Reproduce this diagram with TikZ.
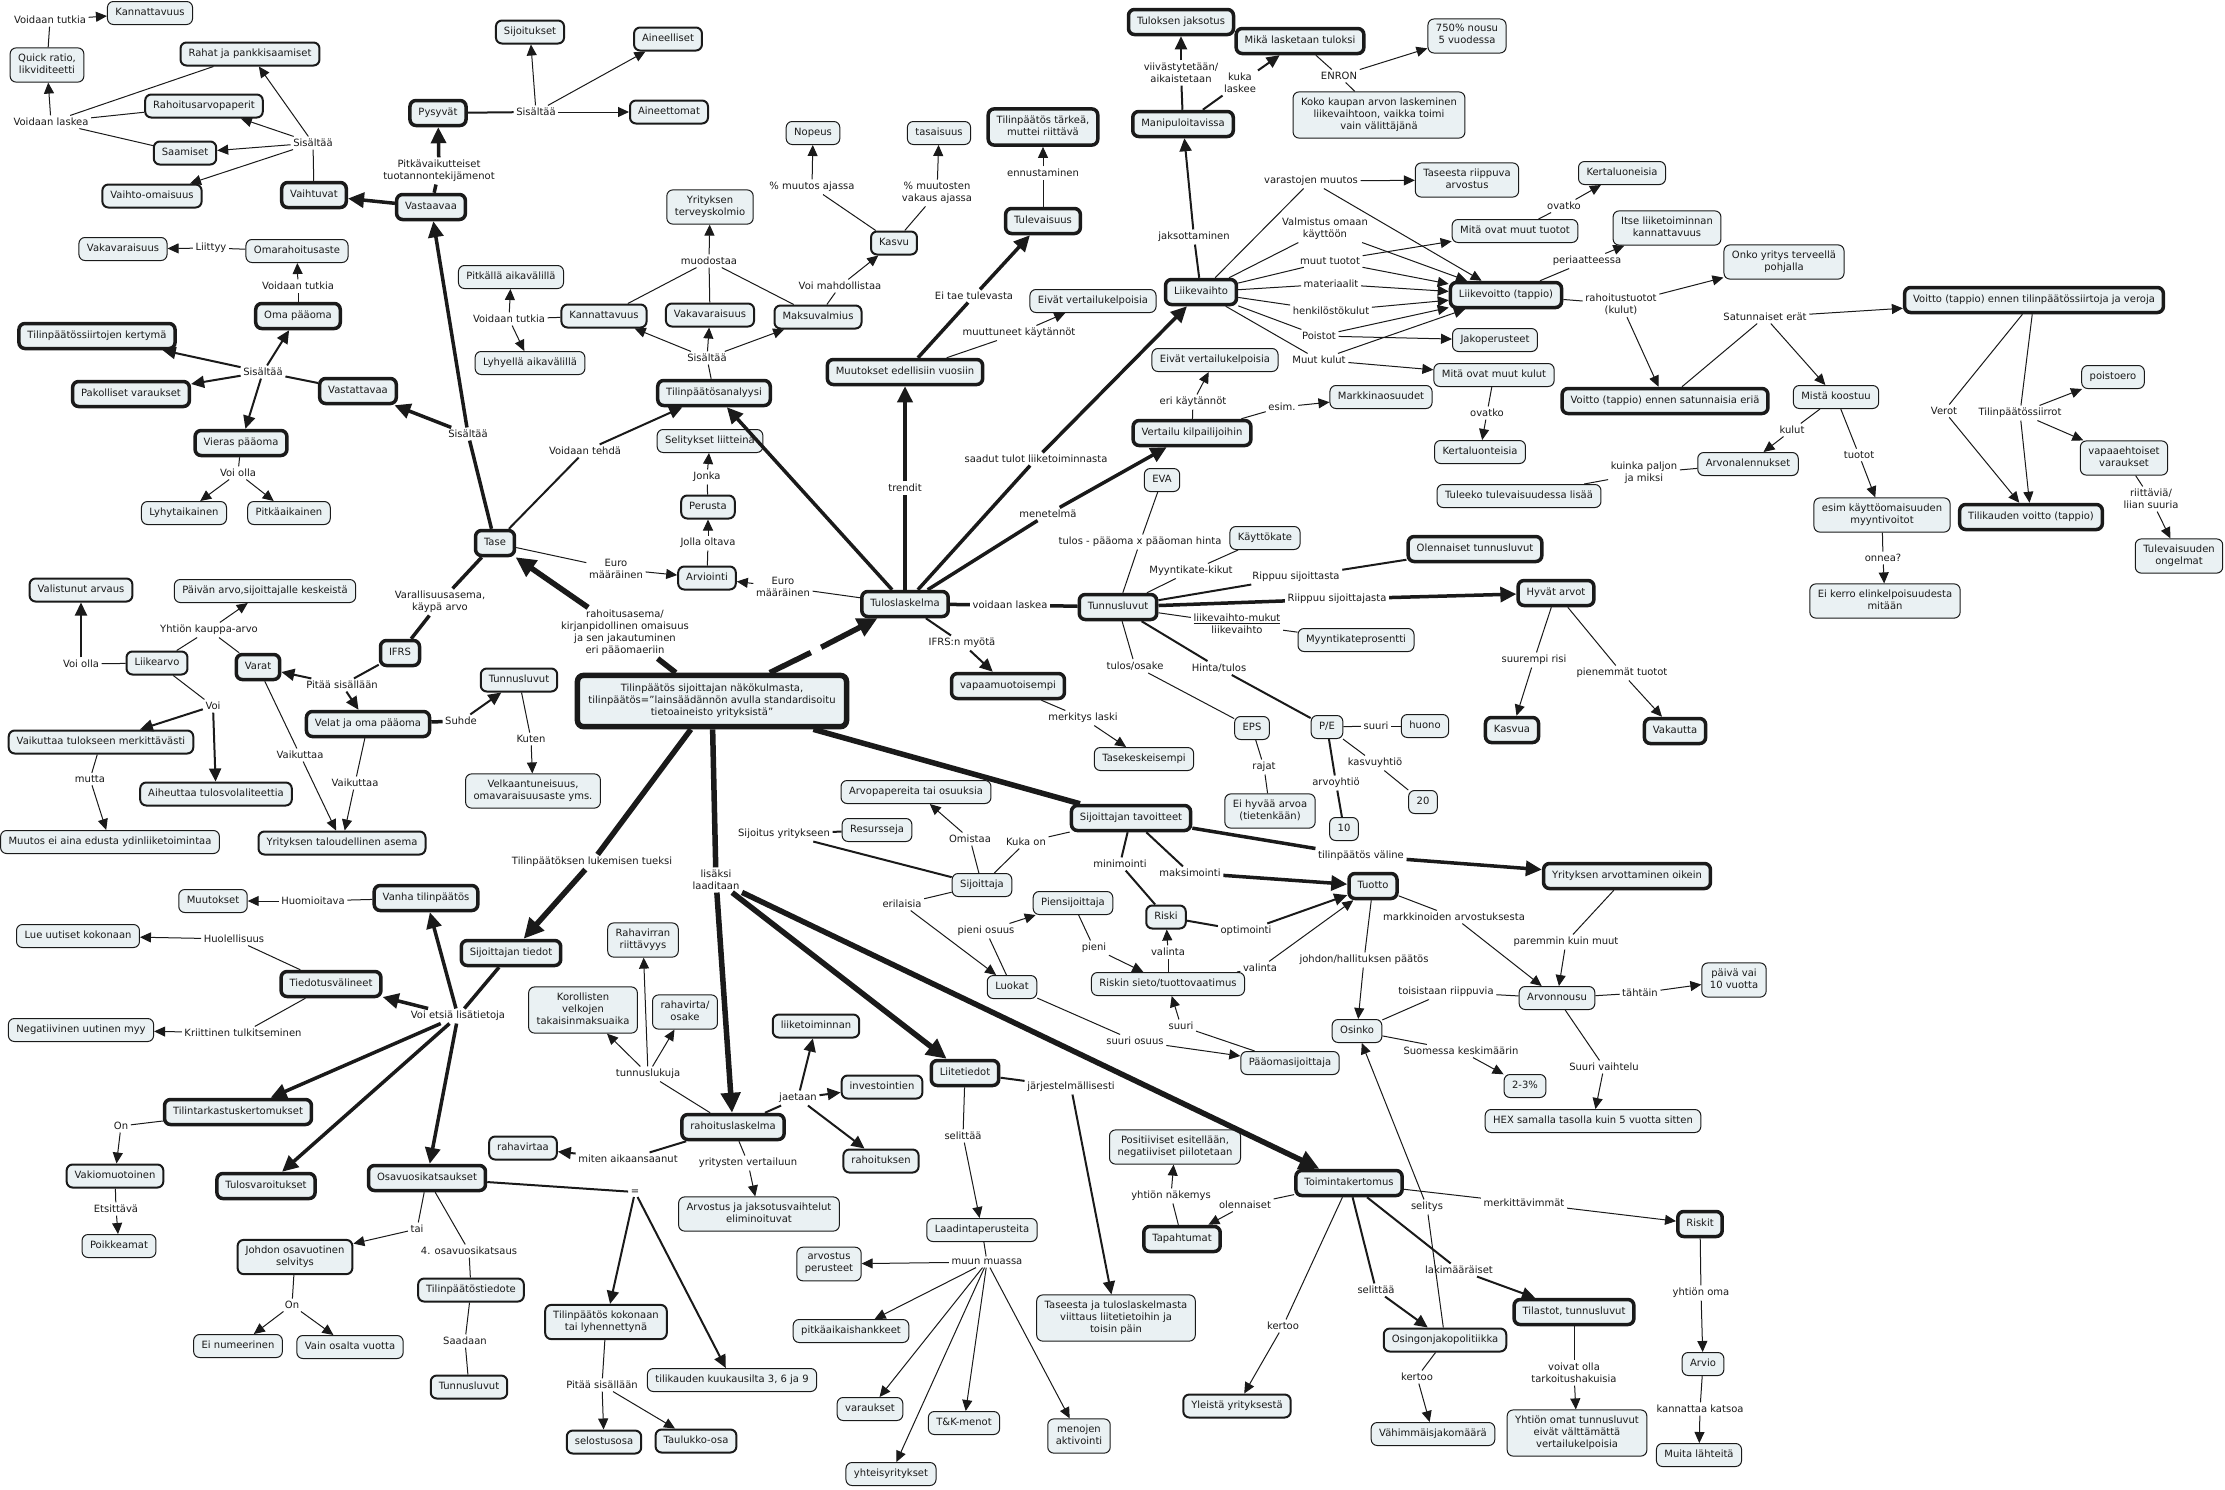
\documentclass[tikz,border=0pt]{standalone}
\usepackage{fontspec}
\setmainfont{DejaVu Sans}
\usetikzlibrary{arrows.meta}
\definecolor{BoxFill}{HTML}{EAF1F3}
\definecolor{Ink}{HTML}{1A1A1A}
\newcommand{\mapfont}{\fontsize{10}{12}\selectfont}

\begin{document}
\begin{tikzpicture}[x=1pt,y=-1pt,every node/.style={font=\mapfont,text=Ink},
cpt/.style={draw=Ink,fill=BoxFill,rounded corners=6pt,line width=1pt,inner xsep=8pt,inner ysep=5.5pt,align=center,execute at begin node=\strut},
cptm/.style={cpt,line width=2pt},cptb/.style={cpt,line width=3.5pt,inner xsep=8.5pt,inner ysep=6.5pt},cptr/.style={cpt,line width=5.5pt,inner xsep=11pt,inner ysep=8pt},
lbl/.style={inner sep=2.5pt,align=center},
ln/.style={draw=Ink,line width=1pt},lnm/.style={draw=Ink,line width=2pt},lnt/.style={draw=Ink,line width=3.5pt},lnh/.style={draw=Ink,line width=5.5pt},
ar/.style={ln,-{Triangle[length=11pt,width=10pt]}},arm/.style={lnm,-{Triangle[length=13pt,width=12pt]}},
art/.style={lnt,-{Triangle[length=16pt,width=15pt]}},arh/.style={lnh,-{Triangle[length=20pt,width=19pt]}}]
\fill[white] (0,0) rectangle (2225,1489);
\useasboundingbox (0,0) rectangle (2225,1489);

\node[cpt] (kannA) at (150,13) {Kannattavuus}; \node[cpt] (quick) at (47,65) {Quick ratio,\\likviditeetti};
\node[cptm] (rahat) at (250,54) {Rahat ja pankkisaamiset}; \node[cptm] (rahoitusap) at (204,106) {Rahoitusarvopaperit};
\node[cptm] (saamiset) at (185,153) {Saamiset}; \node[cptm] (vaihtoom) at (152,196) {Vaihto-omaisuus};
\node[cptb] (vaihtuvat) at (314,195) {Vaihtuvat}; \node[cptb] (vastaavaa) at (431,207) {Vastaavaa};
\node[cptb] (pysyvat) at (438,113) {Pysyvät}; \node[cptm] (sijoitukset) at (530,32) {Sijoitukset};
\node[cptm] (aineelliset) at (668,39) {Aineelliset}; \node[cptm] (aineettomat) at (669,112) {Aineettomat};
\node[cpt] (vakavA) at (123,249) {Vakavaraisuus}; \node[cpt] (omarah) at (297,251) {Omarahoitusaste};
\node[cptb] (omapo) at (298,316) {Oma pääoma}; \node[cptb] (tpsiirrot) at (97,336) {Tilinpäätössiirtojen kertymä};
\node[cptb] (pakolliset) at (131,394) {Pakolliset varaukset}; \node[cptb] (vastattavaa) at (358,391) {Vastattavaa};
\node[cptb] (vieras) at (241,443) {Vieras pääoma}; \node[cpt] (lyhytaik) at (184,513) {Lyhytaikainen};
\node[cpt] (pitkaaik) at (289,513) {Pitkäaikainen}; \node[cpt] (pitkalla) at (511,277) {Pitkällä aikavälillä};
\node[cpt] (lyhyella) at (530,363) {Lyhyellä aikavälillä};
\node[cpt] (nopeus) at (813,133) {Nopeus}; \node[cpt] (tasaisuus) at (939,133) {tasaisuus};
\node[cptb] (tarkea) at (1043,127) {Tilinpäätös tärkeä,\\muttei riittävä}; \node[cpt] (terveys) at (710,207) {Yrityksen\\terveyskolmio};
\node[cptm] (kasvu) at (894,243) {Kasvu}; \node[cptb] (tulevaisuus) at (1043,221) {Tulevaisuus};
\node[cpt] (evkA) at (1093,301) {Eivät vertailukelpoisia};
\node[cptm] (kannB) at (604,316) {Kannattavuus}; \node[cptm] (vakavB) at (710,315) {Vakavaraisuus}; \node[cptm] (maksuv) at (818,317) {Maksuvalmius};
\node[cptb] (muutokset) at (905,372) {Muutokset edellisiin vuosiin}; \node[cptb] (analyysi) at (714,393) {Tilinpäätösanalyysi};
\node[cpt] (selitykset) at (710,441) {Selitykset liitteinä};
\node[cptb] (jaksotus) at (1181,22) {Tuloksen jaksotus}; \node[cptb] (mika) at (1300,41) {Mikä lasketaan tuloksi};
\node[cpt] (nousu) at (1467,36) {750\% nousu\\5 vuodessa};
\node[cpt] (koko) at (1379,115) {Koko kaupan arvon laskeminen\\liikevaihtoon, vaikka toimi\\vain välittäjänä};
\node[cptb] (manip) at (1183,124) {Manipuloitavissa}; \node[cpt] (taseriip) at (1467,180) {Taseesta riippuva\\arvostus};
\node[cpt] (kertaA) at (1622,173) {Kertaluoneisia}; \node[cpt] (muuttuot) at (1515,231) {Mitä ovat muut tuotot};
\node[cpt] (itse) at (1667,228) {Itse liiketoiminnan\\kannattavuus};
\node[cptb] (liikevaihto) at (1201,292) {Liikevaihto}; \node[cpt] (evkB) at (1215,360) {Eivät vertailukelpoisia};
\node[cptb] (vertailu) at (1192,433) {Vertailu kilpailijoihin}; \node[cpt] (markkina) at (1381,397) {Markkinaosuudet};
\node[cptb] (liikevoitto) at (1506,295) {Liikevoitto (tappio)}; \node[cpt] (jakoper) at (1495,340) {Jakoperusteet};
\node[cpt] (muutkulut) at (1494,375) {Mitä ovat muut kulut}; \node[cpt] (kertaB) at (1480,452) {Kertaluonteisia};
\node[cptb] (ennensat) at (1665,401) {Voitto (tappio) ennen satunnaisia eriä}; \node[cpt] (tuleeko) at (1519,496) {Tuleeko tulevaisuudessa lisää};
\node[cpt] (onko) at (1784,262) {Onko yritys terveellä\\pohjalla};
\node[cptb] (ennents) at (2034,300) {Voitto (tappio) ennen tilinpäätössiirtoja ja veroja};
\node[cpt] (mista) at (1836,397) {Mistä koostuu}; \node[cpt] (arvonal) at (1748,464) {Arvonalennukset};
\node[cpt] (poistoero) at (2113,377) {poistoero}; \node[cpt] (vapaaeht) at (2124,458) {vapaaehtoiset\\varaukset};
\node[cpt] (myyntiv) at (1882,515) {esim käyttöomaisuuden\\myyntivoitot}; \node[cptb] (tilikauden) at (2031,517) {Tilikauden voitto (tappio)};
\node[cpt] (ongelmat) at (2179,556) {Tulevaisuuden\\ongelmat}; \node[cpt] (eikerro) at (1885,601) {Ei kerro elinkelpoisuudesta\\mitään};
\node[cpt] (eva) at (1162,480) {EVA}; \node[cpt] (kayttokate) at (1265,538) {Käyttökate};
\node[cptb] (olennaiset) at (1475,549) {Olennaiset tunnusluvut}; \node[cptb] (hyvat) at (1556,593) {Hyvät arvot};
\node[cptb] (tunA) at (1118,607) {Tunnusluvut}; \node[cpt] (myyntikp) at (1356,640) {Myyntikateprosentti};
\node[cpt] (eps) at (1252,728) {EPS}; \node[cpt] (pe) at (1327,727) {P/E}; \node[cpt] (huono) at (1425,726) {huono};
\node[cpt] (eihyva) at (1270,811) {Ei hyvää arvoa\\(tietenkään)}; \node[cpt] (kaksikymmenta) at (1423,802) {20}; \node[cpt] (kymmenen) at (1344,829) {10};
\node[cptb] (kasvua) at (1512,730) {Kasvua}; \node[cptb] (vakautta) at (1675,731) {Vakautta};
\node[cptb] (tavoitteet) at (1131,818) {Sijoittajan tavoitteet}; \node[cptb] (arvottaminen) at (1627,876) {Yrityksen arvottaminen oikein};
\node[cptb] (tuotto) at (1373,886) {Tuotto}; \node[cptm] (riski) at (1166,917) {Riski};
\node[cpt] (riskinsieto) at (1168,984) {Riskin sieto/tuottovaatimus}; \node[cpt] (arvonnousu) at (1557,998) {Arvonnousu};
\node[cpt] (paiva) at (1734,980) {päivä vai\\10 vuotta};
\node[cptm] (perusta) at (708,507) {Perusta}; \node[cptm] (arviointi) at (707,578) {Arviointi};
\node[cptb] (tulos) at (905,604) {Tuloslaskelma}; \node[cptb] (vapaa) at (1008,686) {vapaamuotoisempi};
\node[cpt] (tasekesk) at (1144,759) {Tasekeskeisempi};
\node[cptr] (root) at (712,701) {Tilinpäätös sijoittajan näkökulmasta,\\tilinpäätös="lainsäädännön avulla standardisoitu\\tietoaineisto yrityksistä"};
\node[cpt] (arvopap) at (916,792) {Arvopapereita tai osuuksia}; \node[cpt] (resurssit) at (877,830) {Resursseja};
\node[cpt] (sijoittaja) at (982,885) {Sijoittaja}; \node[cpt] (piensij) at (1073,903) {Piensijoittaja}; \node[cpt] (luokat) at (1012,987) {Luokat};
\node[cptb] (sijtiedot) at (511,953) {Sijoittajan tiedot};
\node[cpt] (rahavirran) at (643,940) {Rahavirran\\riittävyys}; \node[cpt] (korollisten) at (583,1010) {Korollisten\\velkojen\\takaisinmaksuaika};
\node[cpt] (rvosake) at (685,1012) {rahavirta/\\osake}; \node[cptb] (rahlask) at (733,1127) {rahoituslaskelma};
\node[cptm] (liiketoim) at (816,1026) {liiketoiminnan}; \node[cptm] (investoint) at (882,1087) {investointien};
\node[cptm] (rahoituksen) at (881,1161) {rahoituksen}; \node[cptm] (rahavirtaa) at (523,1148) {rahavirtaa};
\node[cpt] (arvostusjak) at (759,1214) {Arvostus ja jaksotusvaihtelut\\eliminoituvat};
\node[cptm] (kokonaan) at (606,1322) {Tilinpäätös kokonaan\\tai lyhennettynä}; \node[cpt] (kuukausilta) at (732,1380) {tilikauden kuukausilta 3, 6 ja 9};
\node[cptm] (selostus) at (604,1442) {selostusosa}; \node[cptm] (taulukko) at (696,1441) {Taulukko-osa};
\node[cptb] (liitetiedot) at (965,1073) {Liitetiedot}; \node[cpt] (laadinta) at (982,1230) {Laadintaperusteita};
\node[cpt] (arvperust) at (829,1264) {arvostus\\perusteet}; \node[cpt] (pitkahank) at (851,1331) {pitkäaikaishankkeet};
\node[cpt] (varaukset) at (870,1409) {varaukset}; \node[cpt] (yhteisyr) at (891,1474) {yhteisyritykset};
\node[cpt] (tk) at (964,1423) {T\&K-menot}; \node[cpt] (menojen) at (1079,1436) {menojen\\aktivointi};
\node[cpt] (taseviit) at (1116,1318) {Taseesta ja tuloslaskelmasta\\viittaus liitetietoihin ja\\toisin päin};
\node[cpt] (paaomasij) at (1290,1063) {Pääomasijoittaja}; \node[cpt] (osinko) at (1357,1031) {Osinko};
\node[cpt] (kaksikolme) at (1525,1086) {2-3\%}; \node[cpt] (hex) at (1593,1121) {HEX samalla tasolla kuin 5 vuotta sitten};
\node[cpt] (positiiviset) at (1175,1147) {Positiiviset esitellään,\\negatiiviset piilotetaan};
\node[cptb] (tapahtumat) at (1182,1239) {Tapahtumat}; \node[cptb] (toiminta) at (1349,1183) {Toimintakertomus};
\node[cptb] (tilastot) at (1574,1312) {Tilastot, tunnusluvut}; \node[cptm] (osingonjako) at (1445,1340) {Osingonjakopolitiikka};
\node[cptm] (yleista) at (1237,1406) {Yleistä yrityksestä}; \node[cpt] (vahimmais) at (1433,1434) {Vähimmäisjakomäärä};
\node[cpt] (omattun) at (1577,1433) {Yhtiön omat tunnusluvut\\eivät välttämättä\\vertailukelpoisia};
\node[cptb] (riskit) at (1700,1224) {Riskit}; \node[cpt] (arvio) at (1703,1364) {Arvio}; \node[cpt] (muita) at (1699,1455) {Muita lähteitä};
\node[cptb] (tase) at (495,543) {Tase}; \node[cptm] (valistunut) at (81,590) {Valistunut arvaus};
\node[cpt] (paivanarvo) at (265,591) {Päivän arvo,sijoittajalle keskeistä}; \node[cptb] (ifrs) at (400,653) {IFRS};
\node[cptm] (liikearvo) at (157,663) {Liikearvo}; \node[cptb] (varat) at (258,667) {Varat};
\node[cptm] (tunB) at (519,680) {Tunnusluvut}; \node[cptb] (velat) at (368,724) {Velat ja oma pääoma};
\node[cptm] (vaikuttaa) at (101,742) {Vaikuttaa tulokseen merkittävästi}; \node[cptm] (aiheuttaa) at (216,794) {Aiheuttaa tulosvolaliteettia};
\node[cpt] (velkaant) at (533,791) {Velkaantuneisuus,\\omavaraisuusaste yms.};
\node[cpt] (muutosei) at (110,842) {Muutos ei aina edusta ydinliiketoimintaa}; \node[cptm] (talasema) at (342,843) {Yrityksen taloudellinen asema};
\node[cpt] (muutoksetB) at (213,901) {Muutokset}; \node[cptb] (vanha) at (426,898) {Vanha tilinpäätös};
\node[cpt] (lue) at (78,936) {Lue uutiset kokonaan}; \node[cptb] (tiedotus) at (331,984) {Tiedotusvälineet};
\node[cpt] (negatiivinen) at (81,1030) {Negatiivinen uutinen myy}; \node[cptb] (tilintark) at (238,1112) {Tilintarkastuskertomukset};
\node[cptm] (vakiomuot) at (115,1176) {Vakiomuotoinen}; \node[cptb] (tulosvar) at (266,1186) {Tulosvaroitukset};
\node[cptb] (osavuosi) at (427,1178) {Osavuosikatsaukset}; \node[cpt] (poikkeamat) at (119,1246) {Poikkeamat};
\node[cptm] (johdon) at (295,1257) {Johdon osavuotinen\\selvitys}; \node[cptm] (tptiedote) at (471,1290) {Tilinpäätöstiedote};
\node[cpt] (einum) at (238,1346) {Ei numeerinen}; \node[cpt] (vainosa) at (350,1347) {Vain osalta vuotta}; \node[cptm] (tunC) at (469,1387) {Tunnusluvut};

\node[lbl] (lVtA) at (50,20) {Voidaan tutkia}; \node[lbl] (lVlaskea) at (51,122) {Voidaan laskea};
\node[lbl] (lSisVaiht) at (313,143) {Sisältää}; \node[lbl] (lPitkav) at (439,171) {Pitkävaikutteiset\\tuotannontekijämenot};
\node[lbl] (lSisPys) at (536,112) {Sisältää}; \node[lbl] (lLiittyy) at (211,248) {Liittyy}; \node[lbl] (lVtB) at (298,286) {Voidaan tutkia};
\node[lbl] (lSisVast) at (263,372) {Sisältää}; \node[lbl] (lSisTase) at (468,434) {Sisältää}; \node[lbl] (lVoiollaA) at (238,473) {Voi olla};
\node[lbl] (lVtC) at (509,319) {Voidaan tutkia}; \node[lbl] (lMuutosAj) at (812,187) {\% muutos ajassa};
\node[lbl] (lMuutosVak) at (937,193) {\% muutosten\\vakaus ajassa}; \node[lbl] (lEnnust) at (1043,173) {ennustaminen};
\node[lbl] (lMuodostaa) at (709,261) {muodostaa}; \node[lbl] (lVoiMahd) at (840,286) {Voi mahdollistaa};
\node[lbl] (lEiTae) at (974,296) {Ei tae tulevasta}; \node[lbl] (lMuuttuneet) at (1019,333) {muuttuneet käytännöt};
\node[lbl] (lSisAna) at (707,358) {Sisältää}; \node[lbl] (lVtehda) at (585,451) {Voidaan tehdä}; \node[lbl] (lJonka) at (707,477) {Jonka};
\node[lbl] (lTrendit) at (905,488) {trendit}; \node[lbl] (lSaadut) at (1036,459) {saadut tulot liiketoiminnasta};
\node[lbl] (lViivast) at (1181,73) {viivästytetään/\\aikaistetaan}; \node[lbl] (lKuka) at (1240,83) {kuka\\laskee};
\node[lbl] (lEnron) at (1339,76) {ENRON}; \node[lbl] (lJaksott) at (1194,237) {jaksottaminen};
\node[lbl] (lVarasto) at (1311,181) {varastojen muutos}; \node[lbl] (lOvatkoA) at (1564,206) {ovatko};
\node[lbl] (lPeriaat) at (1587,261) {periaatteessa}; \node[lbl] (lValmistus) at (1325,229) {Valmistus omaan\\käyttöön};
\node[lbl] (lMuutTuotot) at (1330,261) {muut tuotot}; \node[lbl] (lMateriaalit) at (1331,284) {materiaalit};
\node[lbl] (lHenkilosto) at (1331,311) {henkilöstökulut}; \node[lbl] (lPoistot) at (1319,336) {Poistot};
\node[lbl] (lMuutKulut) at (1319,360) {Muut kulut}; \node[lbl] (lEriKayt) at (1193,402) {eri käytännöt};
\node[lbl] (lEsim) at (1282,407) {esim.}; \node[lbl] (lOvatkoB) at (1487,413) {ovatko};
\node[lbl] (lRahoitust) at (1621,304) {rahoitustuotot\\(kulut)}; \node[lbl] (lKuinka) at (1644,473) {kuinka paljon\\ja miksi};
\node[lbl] (lSatunn) at (1765,317) {Satunnaiset erät}; \node[lbl] (lKulut) at (1792,430) {kulut}; \node[lbl] (lTuotot) at (1859,455) {tuotot};
\node[lbl] (lVerot) at (1944,411) {Verot}; \node[lbl] (lTpsiirrot) at (2020,413) {Tilinpäätössiirrot};
\node[lbl] (lRiittavia) at (2151,499) {riittäviä/\\liian suuria}; \node[lbl] (lOnnea) at (1883,558) {onnea?};
\node[lbl] (lEva) at (1140,542) {tulos - pääoma x pääoman hinta}; \node[lbl] (lMyyntikate) at (1191,571) {Myyntikate-kikut};
\node[lbl] (lRippuu) at (1296,577) {Rippuu sijoittasta}; \node[lbl] (lRiippuu) at (1337,599) {Riippuu sijoittajasta};
\node[lbl] (lLvMukut) at (1237,624) {\underline{liikevaihto-mukut}\\liikevaihto};
\node[lbl] (lTulosOsake) at (1135,666) {tulos/osake}; \node[lbl] (lHintaTulos) at (1219,668) {Hinta/tulos};
\node[lbl] (lSuuriA) at (1376,726) {suuri}; \node[lbl] (lRajat) at (1264,767) {rajat};
\node[lbl] (lKasvuyht) at (1375,763) {kasvuyhtiö}; \node[lbl] (lArvoyht) at (1336,783) {arvoyhtiö};
\node[lbl] (lSuurempi) at (1534,660) {suurempi risi}; \node[lbl] (lPienemmat) at (1622,673) {pienemmät tuotot};
\node[lbl] (lValine) at (1361,856) {tilinpäätös väline}; \node[lbl] (lMinimointi) at (1120,864) {minimointi};
\node[lbl] (lMaksimointi) at (1190,873) {maksimointi}; \node[lbl] (lOptimointi) at (1246,931) {optimointi};
\node[lbl] (lValintaA) at (1168,952) {valinta}; \node[lbl] (lValintaB) at (1260,968) {valinta};
\node[lbl] (lJohdon) at (1364,960) {johdon/hallituksen päätös}; \node[lbl] (lMarkkinoiden) at (1454,917) {markkinoiden arvostuksesta};
\node[lbl] (lParemmin) at (1566,942) {paremmin kuin muut}; \node[lbl] (lToisistaan) at (1446,992) {toisistaan riippuvia};
\node[lbl] (lTahtain) at (1640,993) {tähtäin}; \node[lbl] (lJollaOltava) at (708,543) {Jolla oltava};
\node[lbl] (lEuroA) at (616,569) {Euro\\määräinen}; \node[lbl] (lEuroB) at (783,587) {Euro\\määräinen};
\node[lbl] (lVoidaanLaskea) at (1010,605) {voidaan laskea}; \node[lbl] (lMenetelma) at (1048,514) {menetelmä};
\node[lbl] (lRahoitusasema) at (625,633) {rahoitusasema/\\kirjanpidollinen omaisuus\\ja sen jakautuminen\\eri pääomaeriin};
\node[lbl] (lIfrsMyota) at (962,643) {IFRS:n myötä}; \node[lbl] (lMerkitys) at (1083,718) {merkitys laski};
\node[lbl,inner sep=5pt] (lGap) at (816,650) {};
\node[lbl] (lSijoitusYr) at (784,834) {Sijoitus yritykseen}; \node[lbl] (lOmistaa) at (970,839) {Omistaa};
\node[lbl] (lKukaOn) at (1026,842) {Kuka on}; \node[lbl] (lErilaisia) at (902,904) {erilaisia};
\node[lbl] (lPieniOsuus) at (986,931) {pieni osuus}; \node[lbl] (lPieni) at (1094,948) {pieni};
\node[lbl] (lLisaksi) at (716,880) {lisäksi\\laaditaan}; \node[lbl] (lLukemisen) at (592,862) {Tilinpäätöksen lukemisen tueksi};
\node[lbl] (lTunnuslukuja) at (648,1074) {tunnuslukuja}; \node[lbl] (lJaetaan) at (798,1098) {jaetaan};
\node[lbl] (lMiten) at (628,1159) {miten aikaansaanut}; \node[lbl] (lVertailuun) at (748,1163) {yritysten vertailuun};
\node[lbl] (lYhtasuuri) at (635,1192) {=}; \node[lbl] (lPitaaB) at (602,1385) {Pitää sisällään};
\node[lbl] (lJarjest) at (1071,1087) {järjestelmällisesti}; \node[lbl] (lSelittaaA) at (963,1136) {selittää};
\node[lbl] (lMuunMuassa) at (987,1262) {muun muassa}; \node[lbl] (lSuuriB) at (1181,1026) {suuri};
\node[lbl] (lSuuriOsuus) at (1135,1041) {suuri osuus}; \node[lbl] (lSuomessa) at (1461,1051) {Suomessa keskimäärin};
\node[lbl] (lSuuriVaiht) at (1604,1067) {Suuri vaihtelu}; \node[lbl] (lYhtionNak) at (1171,1196) {yhtiön näkemys};
\node[lbl] (lOlennaiset) at (1245,1205) {olennaiset}; \node[lbl] (lSelitys) at (1427,1207) {selitys};
\node[lbl] (lMerkittavimmat) at (1524,1203) {merkittävimmät}; \node[lbl] (lLakimaar) at (1459,1270) {lakimääräiset};
\node[lbl] (lSelittaaB) at (1376,1290) {selittää}; \node[lbl] (lKertooA) at (1283,1326) {kertoo};
\node[lbl] (lKertooB) at (1417,1377) {kertoo}; \node[lbl] (lVoivat) at (1574,1373) {voivat olla\\tarkoitushakuisia};
\node[lbl] (lKannattaa) at (1700,1409) {kannattaa katsoa}; \node[lbl] (lYhtionOma) at (1701,1293) {yhtiön oma};
\node[lbl] (lVarallisuus) at (440,602) {Varallisuusasema,\\käypä arvo}; \node[lbl] (lKauppa) at (209,630) {Yhtiön kauppa-arvo};
\node[lbl] (lVoiollaB) at (81,664) {Voi olla}; \node[lbl] (lPitaaA) at (342,685) {Pitää sisällään};
\node[lbl] (lVoi) at (213,706) {Voi}; \node[lbl] (lSuhde) at (461,721) {Suhde}; \node[lbl] (lKuten) at (531,739) {Kuten};
\node[lbl] (lVaikA) at (300,755) {Vaikuttaa}; \node[lbl] (lVaikB) at (355,783) {Vaikuttaa}; \node[lbl] (lMutta) at (90,779) {mutta};
\node[lbl] (lHuomioitava) at (313,901) {Huomioitava}; \node[lbl] (lHuolellisuus) at (234,939) {Huolellisuus};
\node[lbl] (lEtsia) at (458,1016) {Voi etsiä lisätietoja}; \node[lbl] (lKriittinen) at (243,1033) {Kriittinen tulkitseminen};
\node[lbl] (lOnA) at (121,1126) {On}; \node[lbl] (lEtsittava) at (116,1209) {Etsittävä}; \node[lbl] (lTai) at (417,1229) {tai};
\node[lbl] (lNeljas) at (469,1251) {4. osavuosikatsaus}; \node[lbl] (lOnB) at (292,1305) {On}; \node[lbl] (lSaadaan) at (465,1341) {Saadaan};

\draw[ln] (quick)--(lVtA); \draw[ar] (lVtA)--(kannA);
\draw[ln] (rahat)--(lVlaskea); \draw[ln] (rahoitusap)--(lVlaskea); \draw[ln] (saamiset)--(lVlaskea); \draw[ar] (lVlaskea)--(quick);
\draw[ln] (vaihtuvat)--(lSisVaiht); \draw[ar] (lSisVaiht)--(rahat); \draw[ar] (lSisVaiht)--(rahoitusap); \draw[ar] (lSisVaiht)--(saamiset); \draw[ar] (lSisVaiht)--(vaihtoom);
\draw[art] (vastaavaa)--(vaihtuvat); \draw[lnt] (vastaavaa)--(lPitkav); \draw[art] (lPitkav)--(pysyvat);
\draw[lnm] (pysyvat)--(lSisPys); \draw[ar] (lSisPys)--(sijoitukset); \draw[ar] (lSisPys)--(aineelliset); \draw[ar] (lSisPys)--(aineettomat);
\draw[ln] (omarah)--(lLiittyy); \draw[ar] (lLiittyy)--(vakavA); \draw[ln] (omapo)--(lVtB); \draw[ar] (lVtB)--(omarah);
\draw[lnm] (vastattavaa)--(lSisVast); \draw[arm] (lSisVast)--(omapo); \draw[arm] (lSisVast)--(tpsiirrot); \draw[arm] (lSisVast)--(pakolliset); \draw[arm] (lSisVast)--(vieras);
\draw[lnt] (tase)--(lSisTase); \draw[art] (lSisTase)--(vastattavaa); \draw[art] (lSisTase)--(vastaavaa);
\draw[ln] (vieras)--(lVoiollaA); \draw[ar] (lVoiollaA)--(lyhytaik); \draw[ar] (lVoiollaA)--(pitkaaik);
\draw[ln] (kannB)--(lVtC); \draw[ar] (lVtC)--(pitkalla); \draw[ar] (lVtC)--(lyhyella);
\draw[lnm] (tase)--(lVtehda); \draw[arm] (lVtehda)--(analyysi);
\draw[ln] (kasvu)--(lMuutosAj); \draw[ar] (lMuutosAj)--(nopeus); \draw[ln] (kasvu)--(lMuutosVak); \draw[ar] (lMuutosVak)--(tasaisuus);
\draw[ln] (tulevaisuus)--(lEnnust); \draw[ar] (lEnnust)--(tarkea);
\draw[ln] (kannB)--(lMuodostaa); \draw[ln] (vakavB)--(lMuodostaa); \draw[ln] (maksuv)--(lMuodostaa); \draw[ar] (lMuodostaa)--(terveys);
\draw[ln] (maksuv)--(lVoiMahd); \draw[ar] (lVoiMahd)--(kasvu);
\draw[lnt] (muutokset)--(lEiTae); \draw[art] (lEiTae)--(tulevaisuus); \draw[ln] (muutokset)--(lMuuttuneet); \draw[ar] (lMuuttuneet)--(evkA);
\draw[ln] (analyysi)--(lSisAna); \draw[ar] (lSisAna)--(kannB); \draw[ar] (lSisAna)--(vakavB); \draw[ar] (lSisAna)--(maksuv);
\draw[ln] (perusta)--(lJonka); \draw[ar] (lJonka)--(selitykset);
\draw[lnt] (tulos)--(lTrendit); \draw[art] (lTrendit)--(muutokset); \draw[lnt] (tulos)--(lSaadut); \draw[art] (lSaadut)--(liikevaihto);
\draw[art] (tulos)--(analyysi); \draw[lnt] (tulos)--(lMenetelma); \draw[art] (lMenetelma)--(vertailu);
\draw[lnt] (tulos)--(lVoidaanLaskea); \draw[lnt] (lVoidaanLaskea)--(tunA);
\draw[lnm] (tulos)--(lIfrsMyota); \draw[arm] (lIfrsMyota)--(vapaa);
\draw[ln] (tulos)--(lEuroB); \draw[ar] (lEuroB)--(arviointi); \draw[ln] (tase)--(lEuroA); \draw[ar] (lEuroA)--(arviointi);
\draw[ln] (arviointi)--(lJollaOltava); \draw[ar] (lJollaOltava)--(perusta);

\draw[lnm] (liikevaihto)--(lJaksott); \draw[arm] (lJaksott)--(manip);
\draw[lnm] (manip)--(lViivast); \draw[arm] (lViivast)--(jaksotus); \draw[lnm] (manip)--(lKuka); \draw[arm] (lKuka)--(mika);
\draw[ln] (mika)--(lEnron); \draw[ln] (koko)--(lEnron); \draw[ar] (lEnron)--(nousu);
\draw[ln] (liikevaihto)--(lVarasto); \draw[ar] (lVarasto)--(taseriip); \draw[ar] (lVarasto)--(liikevoitto);
\draw[ln] (liikevaihto)--(lValmistus); \draw[ar] (lValmistus)--(liikevoitto);
\draw[ln] (liikevaihto)--(lMuutTuotot); \draw[ar] (lMuutTuotot)--(muuttuot); \draw[ar] (lMuutTuotot)--(liikevoitto);
\draw[ln] (liikevaihto)--(lMateriaalit); \draw[ar] (lMateriaalit)--(liikevoitto);
\draw[ln] (liikevaihto)--(lHenkilosto); \draw[ar] (lHenkilosto)--(liikevoitto);
\draw[ln] (liikevaihto)--(lPoistot); \draw[ar] (lPoistot)--(liikevoitto); \draw[ar] (lPoistot)--(jakoper);
\draw[ln] (liikevaihto)--(lMuutKulut); \draw[ar] (lMuutKulut)--(liikevoitto); \draw[ar] (lMuutKulut)--(muutkulut);
\draw[ln] (muuttuot)--(lOvatkoA); \draw[ar] (lOvatkoA)--(kertaA); \draw[ln] (muutkulut)--(lOvatkoB); \draw[ar] (lOvatkoB)--(kertaB);
\draw[ln] (liikevoitto)--(lPeriaat); \draw[ar] (lPeriaat)--(itse);
\draw[ln] (liikevoitto)--(lRahoitust); \draw[ar] (lRahoitust)--(ennensat); \draw[ar] (lRahoitust)--(onko);
\draw[ln] (ennensat)--(lSatunn); \draw[ar] (lSatunn)--(ennents); \draw[ar] (lSatunn)--(mista);
\draw[ln] (mista)--(lKulut); \draw[ar] (lKulut)--(arvonal); \draw[ln] (mista)--(lTuotot); \draw[ar] (lTuotot)--(myyntiv);
\draw[ln] (arvonal)--(lKuinka); \draw[ln] (lKuinka)--(tuleeko);
\draw[ln] (myyntiv)--(lOnnea); \draw[ar] (lOnnea)--(eikerro);
\draw[ln] (ennents)--(lVerot); \draw[ar] (lVerot)--(tilikauden);
\draw[ln] (ennents)--(lTpsiirrot); \draw[ar] (lTpsiirrot)--(tilikauden); \draw[ar] (lTpsiirrot)--(poistoero); \draw[ar] (lTpsiirrot)--(vapaaeht);
\draw[ln] (vapaaeht)--(lRiittavia); \draw[ar] (lRiittavia)--(ongelmat);
\draw[ln] (vertailu)--(lEriKayt); \draw[ar] (lEriKayt)--(evkB); \draw[ln] (vertailu)--(lEsim); \draw[ar] (lEsim)--(markkina);

\draw[ln] (tunA)--(lEva); \draw[ln] (lEva)--(eva); \draw[ln] (tunA)--(lMyyntikate); \draw[ln] (lMyyntikate)--(kayttokate);
\draw[lnm] (tunA)--(lRippuu); \draw[lnm] (lRippuu)--(olennaiset); \draw[lnt] (tunA)--(lRiippuu); \draw[art] (lRiippuu)--(hyvat);
\draw[ln] (tunA)--(lLvMukut); \draw[ln] (lLvMukut)--(myyntikp); \draw[ln] (tunA)--(lTulosOsake); \draw[ln] (lTulosOsake)--(eps);
\draw[lnm] (tunA)--(lHintaTulos); \draw[lnm] (lHintaTulos)--(pe);
\draw[ln] (eps)--(lRajat); \draw[ln] (lRajat)--(eihyva); \draw[ln] (pe)--(lSuuriA); \draw[ln] (lSuuriA)--(huono);
\draw[ln] (pe)--(lKasvuyht); \draw[ln] (lKasvuyht)--(kaksikymmenta); \draw[lnm] (pe)--(lArvoyht); \draw[lnm] (lArvoyht)--(kymmenen);
\draw[ln] (hyvat)--(lSuurempi); \draw[ar] (lSuurempi)--(kasvua); \draw[ln] (hyvat)--(lPienemmat); \draw[ar] (lPienemmat)--(vakautta);
\draw[ln] (vapaa)--(lMerkitys); \draw[ar] (lMerkitys)--(tasekesk);

\draw[lnh] (root)--(tavoitteet);
\draw[ln] (tavoitteet)--(lKukaOn); \draw[ln] (lKukaOn)--(sijoittaja);
\draw[lnm] (tavoitteet)--(lMinimointi); \draw[lnm] (lMinimointi)--(riski);
\draw[lnm] (tavoitteet)--(lMaksimointi); \draw[art] (lMaksimointi)--(tuotto);
\draw[lnt] (tavoitteet)--(lValine); \draw[art] (lValine)--(arvottaminen);
\draw[ln] (sijoittaja)--(lOmistaa); \draw[ar] (lOmistaa)--(arvopap);
\draw[lnm] (sijoittaja)--(lSijoitusYr); \draw[lnm] (lSijoitusYr)--(resurssit);
\draw[ln] (sijoittaja)--(lErilaisia); \draw[ar] (lErilaisia)--(luokat);
\draw[ln] (luokat)--(lPieniOsuus); \draw[ar] (lPieniOsuus)--(piensij); \draw[ln] (luokat)--(lSuuriOsuus); \draw[ar] (lSuuriOsuus)--(paaomasij);
\draw[ln] (piensij)--(lPieni); \draw[ar] (lPieni)--(riskinsieto); \draw[ln] (paaomasij)--(lSuuriB); \draw[ar] (lSuuriB)--(riskinsieto);
\draw[ln] (riskinsieto)--(lValintaA); \draw[ar] (lValintaA)--(riski); \draw[ln] (riskinsieto)--(lValintaB); \draw[ar] (lValintaB)--(tuotto);
\draw[lnm] (riski)--(lOptimointi); \draw[arm] (lOptimointi)--(tuotto);
\draw[ln] (tuotto)--(lJohdon); \draw[ar] (lJohdon)--(osinko); \draw[ln] (tuotto)--(lMarkkinoiden); \draw[ar] (lMarkkinoiden)--(arvonnousu);
\draw[ln] (arvottaminen)--(lParemmin); \draw[ar] (lParemmin)--(arvonnousu);
\draw[ln] (arvonnousu)--(lToisistaan); \draw[ln] (lToisistaan)--(osinko);
\draw[ln] (arvonnousu)--(lTahtain); \draw[ar] (lTahtain)--(paiva); \draw[ln] (arvonnousu)--(lSuuriVaiht); \draw[ar] (lSuuriVaiht)--(hex);
\draw[ln] (osinko)--(lSuomessa); \draw[ar] (lSuomessa)--(kaksikolme);

\draw[ln] (toiminta)--(lOlennaiset); \draw[ar] (lOlennaiset)--(tapahtumat); \draw[ln] (tapahtumat)--(lYhtionNak); \draw[ar] (lYhtionNak)--(positiiviset);
\draw[ln] (toiminta)--(lMerkittavimmat); \draw[ar] (lMerkittavimmat)--(riskit);
\draw[lnm] (toiminta)--(lLakimaar); \draw[arm] (lLakimaar)--(tilastot); \draw[lnm] (toiminta)--(lSelittaaB); \draw[arm] (lSelittaaB)--(osingonjako);
\draw[ln] (toiminta)--(lKertooA); \draw[ar] (lKertooA)--(yleista);
\draw[ln] (osingonjako)--(lSelitys); \draw[ar] (lSelitys)--(osinko); \draw[ln] (osingonjako)--(lKertooB); \draw[ar] (lKertooB)--(vahimmais);
\draw[ln] (tilastot)--(lVoivat); \draw[ar] (lVoivat)--(omattun);
\draw[ln] (riskit)--(lYhtionOma); \draw[ar] (lYhtionOma)--(arvio); \draw[ln] (arvio)--(lKannattaa); \draw[ar] (lKannattaa)--(muita);

\draw[lnm] (liitetiedot)--(lJarjest); \draw[arm] (lJarjest)--(taseviit); \draw[ln] (liitetiedot)--(lSelittaaA); \draw[ar] (lSelittaaA)--(laadinta);
\draw[ln] (laadinta)--(lMuunMuassa); \draw[ar] (lMuunMuassa)--(arvperust); \draw[ar] (lMuunMuassa)--(pitkahank); \draw[ar] (lMuunMuassa)--(varaukset);
\draw[ar] (lMuunMuassa)--(yhteisyr); \draw[ar] (lMuunMuassa)--(tk); \draw[ar] (lMuunMuassa)--(menojen);
\draw[lnm] (rahlask)--(lJaetaan); \draw[arm] (lJaetaan)--(liiketoim); \draw[arm] (lJaetaan)--(investoint); \draw[arm] (lJaetaan)--(rahoituksen);
\draw[lnm] (rahlask)--(lMiten); \draw[arm] (lMiten)--(rahavirtaa); \draw[ln] (rahlask)--(lVertailuun); \draw[ar] (lVertailuun)--(arvostusjak);
\draw[ln] (rahlask)--(lTunnuslukuja); \draw[ar] (lTunnuslukuja)--(rahavirran); \draw[ar] (lTunnuslukuja)--(korollisten); \draw[ar] (lTunnuslukuja)--(rvosake);

\draw[lnh] (root)--(lRahoitusasema); \draw[arh] (lRahoitusasema)--(tase);
\draw[lnh] (root)--(lGap); \draw[arh] (lGap)--(tulos);
\draw[lnh] (root)--(lLukemisen); \draw[arh] (lLukemisen)--(sijtiedot);
\draw[lnh] (root)--(lLisaksi); \draw[arh] (lLisaksi)--(rahlask); \draw[arh] (lLisaksi)--(liitetiedot); \draw[arh] (lLisaksi)--(toiminta);

\draw[lnt] (ifrs)--(lVarallisuus); \draw[lnt] (lVarallisuus)--(tase);
\draw[lnm] (ifrs)--(lPitaaA); \draw[arm] (lPitaaA)--(varat); \draw[arm] (lPitaaA)--(velat);
\draw[ln] (varat)--(lKauppa); \draw[ln] (liikearvo)--(lKauppa); \draw[ar] (lKauppa)--(paivanarvo);
\draw[ln] (liikearvo)--(lVoiollaB); \draw[arm] (lVoiollaB)--(valistunut);
\draw[ln] (liikearvo)--(lVoi); \draw[arm] (lVoi)--(vaikuttaa); \draw[arm] (lVoi)--(aiheuttaa);
\draw[ln] (vaikuttaa)--(lMutta); \draw[ar] (lMutta)--(muutosei);
\draw[ln] (varat)--(lVaikA); \draw[ar] (lVaikA)--(talasema); \draw[ln] (velat)--(lVaikB); \draw[ar] (lVaikB)--(talasema);
\draw[lnt] (velat)--(lSuhde); \draw[arm] (lSuhde)--(tunB); \draw[ln] (tunB)--(lKuten); \draw[ar] (lKuten)--(velkaant);

\draw[lnt] (sijtiedot)--(lEtsia); \draw[art] (lEtsia)--(vanha); \draw[art] (lEtsia)--(tiedotus); \draw[art] (lEtsia)--(tilintark);
\draw[art] (lEtsia)--(tulosvar); \draw[art] (lEtsia)--(osavuosi);
\draw[ln] (vanha)--(lHuomioitava); \draw[ar] (lHuomioitava)--(muutoksetB);
\draw[ln] (tiedotus)--(lHuolellisuus); \draw[ar] (lHuolellisuus)--(lue); \draw[ln] (tiedotus)--(lKriittinen); \draw[ar] (lKriittinen)--(negatiivinen);
\draw[ln] (tilintark)--(lOnA); \draw[ar] (lOnA)--(vakiomuot); \draw[ln] (vakiomuot)--(lEtsittava); \draw[ar] (lEtsittava)--(poikkeamat);
\draw[ln] (osavuosi)--(lTai); \draw[ar] (lTai)--(johdon); \draw[ln] (osavuosi)--(lNeljas); \draw[ln] (lNeljas)--(tptiedote);
\draw[lnm] (osavuosi)--(lYhtasuuri); \draw[arm] (lYhtasuuri)--(kokonaan); \draw[arm] (lYhtasuuri)--(kuukausilta);
\draw[ln] (johdon)--(lOnB); \draw[ar] (lOnB)--(einum); \draw[ar] (lOnB)--(vainosa);
\draw[ln] (tptiedote)--(lSaadaan); \draw[ln] (lSaadaan)--(tunC);
\draw[ln] (kokonaan)--(lPitaaB); \draw[ar] (lPitaaB)--(selostus); \draw[ar] (lPitaaB)--(taulukko);

\end{tikzpicture}
\end{document}
